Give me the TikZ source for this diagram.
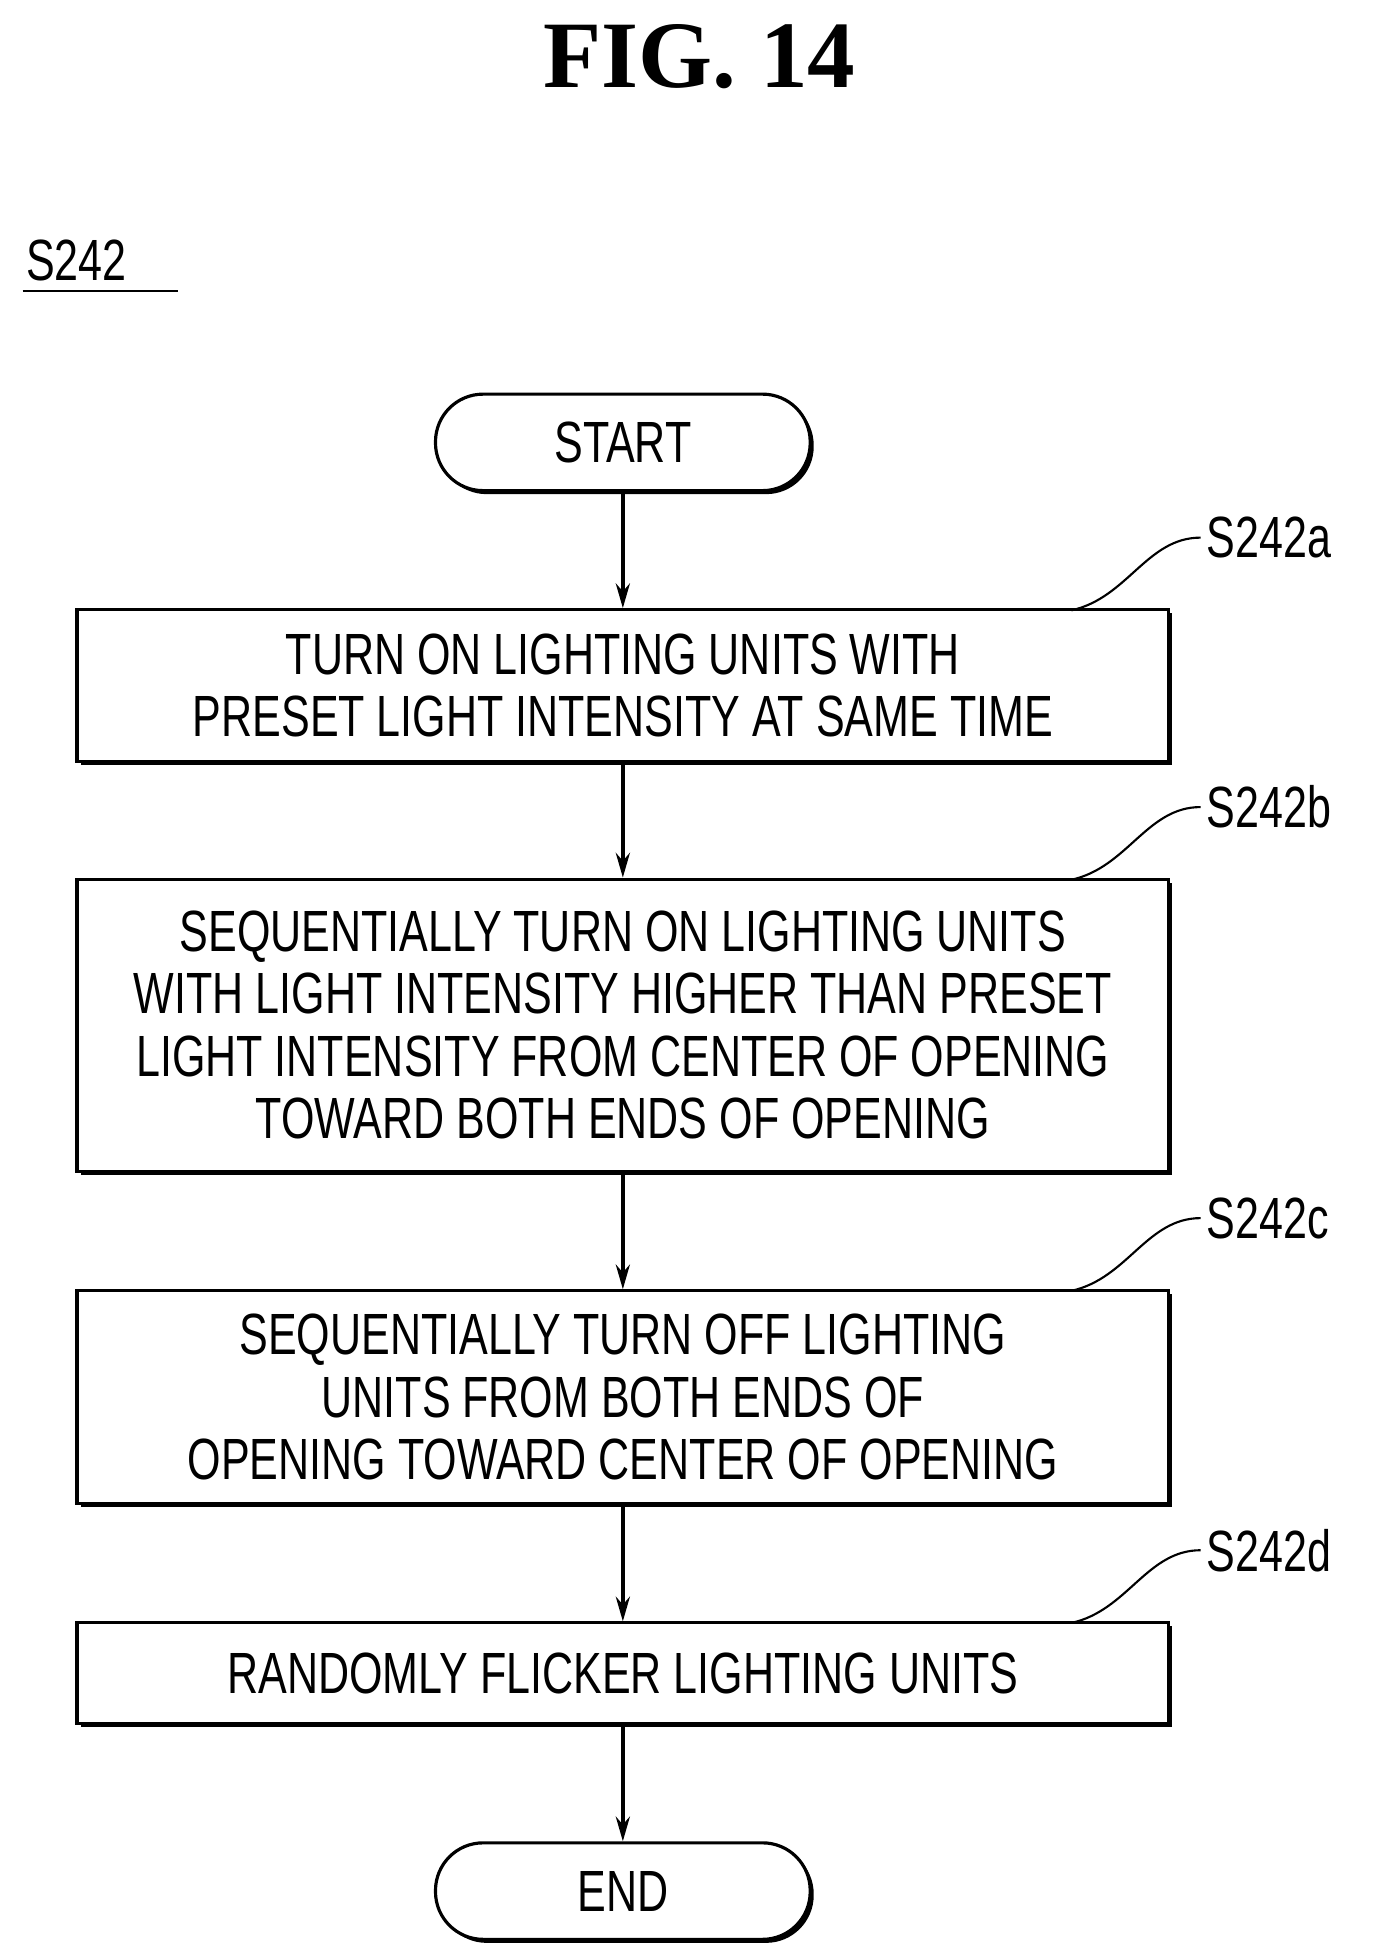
\documentclass[tikz,border=0pt]{standalone}
\usepackage{fontspec}
\newfontfamily\narrowsf[FakeStretch=0.74]{Liberation Sans}
\newfontfamily\figserif{Liberation Serif}
\usetikzlibrary{arrows.meta,shadows}
\begin{document}
\begin{tikzpicture}[x=0.025cm,y=-0.025cm]

    \tikzset{stepbox/.style={draw,line width=1.8pt,minimum width=871*0.025cm,
        align=center,font=\narrowsf\fontsize{33}{35.5}\selectfont,inner sep=0pt,
        drop shadow={shadow xshift=2pt,shadow yshift=-2pt,fill=black,opacity=1},fill=white}}
    \tikzset{termbox/.style={stepbox,rounded corners=38*0.025cm,minimum width=299*0.025cm,
        minimum height=77*0.025cm}}
    \tikzset{steplabel/.style={font=\narrowsf\fontsize{33}{40}\selectfont}}
    \tikzset{flow/.style={-{Stealth[length=14pt,width=8pt]},line width=2pt}}

    \useasboundingbox (0,0) rectangle (1103,1564);

    \node[font=\figserif\bfseries\fontsize{54}{60}\selectfont] (fig) at (558,45) {FIG. 14};
    \node[steplabel,anchor=west] (s242) at (16,208) {S242};
    \draw[line width=1.4pt] (18,232) -- (142,232);

    \node[termbox] (start) at (497,353) {START};
    \node[stepbox,minimum height=121*0.025cm] (sa) at (497,547)
        {TURN ON LIGHTING UNITS WITH\\ PRESET LIGHT INTENSITY AT SAME TIME};
    \node[stepbox,minimum height=233*0.025cm] (sb) at (497,818)
        {SEQUENTIALLY TURN ON LIGHTING UNITS\\ WITH LIGHT INTENSITY HIGHER THAN PRESET\\
         LIGHT INTENSITY FROM CENTER OF OPENING\\ TOWARD BOTH ENDS OF OPENING};
    \node[stepbox,minimum height=170*0.025cm] (sc) at (497,1115)
        {SEQUENTIALLY TURN OFF LIGHTING\\ UNITS FROM BOTH ENDS OF\\ OPENING TOWARD CENTER OF OPENING};
    \node[stepbox,minimum height=80*0.025cm] (sd) at (497,1335) {RANDOMLY FLICKER LIGHTING UNITS};
    \node[termbox] (end) at (497,1509) {END};

    \draw[flow] (start) -- (sa);
    \draw[flow] (sa) -- (sb);
    \draw[flow] (sb) -- (sc);
    \draw[flow] (sc) -- (sd);
    \draw[flow] (sd) -- (end);

    % step labels
    \foreach \nm/\tx/\y in {sa/S242a/487, sb/S242b/702, sc/S242c/1030, sd/S242d/1295}{
        \node[steplabel,anchor=west] (l\nm) at (958,\y-58) {\tx};
        \draw[line width=1.2pt] (855,\y) .. controls (900,\y-10) and (915,\y-58) .. (l\nm.west);
    }

\end{tikzpicture}
\end{document}
